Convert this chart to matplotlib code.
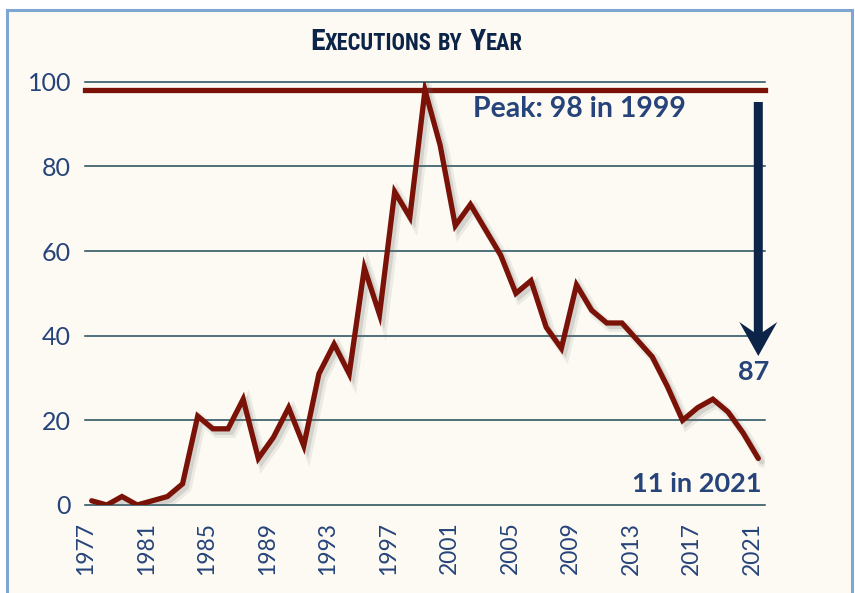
import matplotlib
matplotlib.use("Agg")
import matplotlib.pyplot as plt
import matplotlib.patheffects as pe
import matplotlib.transforms as mtransforms
from matplotlib.patches import Rectangle, Polygon

# data
years = list(range(1977, 2022))
executions = [1, 0, 2, 0, 1, 2, 5, 21, 18, 18,
              25, 11, 16, 23, 14, 31, 38, 31, 56, 45,
              74, 68, 98, 85, 66, 71, 65, 59, 50, 53,
              42, 37, 52, 46, 43, 43, 39, 35, 28, 20,
              23, 25, 22, 17, 11]
xtick_years = list(range(1977, 2022, 4))
ytick_values = [0, 20, 40, 60, 80, 100]
peak_value = 98
peak_label = "Peak: 98 in 1999"
drop_label = "87"
last_label = "11 in 2021"

RED = "#7a1208"
NAVY = "#0d2449"
TEXT = "#26447a"
GRID = "#1f4b57"
CREAM = "#fcfaf3"
BORDER = "#7ea6d3"

plt.rcParams["font.family"] = ["Lato", "DejaVu Sans"]

fig = plt.figure(figsize=(8.55, 5.93), dpi=100, facecolor="white")
fig.patches.append(Rectangle((0.0082, -0.05), 0.9883, 1.0331, transform=fig.transFigure,
                             facecolor=CREAM, edgecolor=BORDER, linewidth=2.2, zorder=-10))

ax = fig.add_axes([0.0994, 0.1484, 0.7953, 0.7138])
ax.set_facecolor("none")
ax.set_xlim(1976.56, 2021.44)
ax.set_ylim(0, 100)
for s in ax.spines.values():
    s.set_visible(False)

# gridlines
for v in ytick_values:
    ax.axhline(v, color=GRID, lw=1.1, clip_on=False, zorder=1)

# peak line
ax.axhline(peak_value, color=RED, lw=3.8, clip_on=False, zorder=3)

# main series with soft shadow
ax.plot(years, executions, color=RED, lw=3.8, solid_joinstyle="miter",
        solid_capstyle="round", zorder=4,
        path_effects=[pe.SimpleLineShadow(offset=(3, -3), shadow_color="#777777", alpha=0.12,
                                          linewidth=7),
                      pe.SimpleLineShadow(offset=(2.5, -2.5), shadow_color="#666666", alpha=0.18),
                      pe.Normal()])

ax.set_yticks(ytick_values)
ax.set_xticks(xtick_years)
ax.set_xticklabels([str(y) for y in xtick_years], rotation=90, va="top", ha="center")
ax.tick_params(axis="both", length=0, colors=TEXT, labelsize=16.5)
ax.tick_params(axis="y", pad=10, labelsize=18)
ax.tick_params(axis="x", pad=12)
shift = mtransforms.ScaledTranslation(-0.06, 0, fig.dpi_scale_trans)
for lab in ax.get_xticklabels():
    lab.set_transform(lab.get_transform() + shift)

# annotations
ax.text(2002.2, 91.7, peak_label, color=TEXT, fontsize=20.5, fontweight="bold", va="baseline")

# drop arrow, shape in inches relative to its tip
tip = mtransforms.ScaledTranslation(2021, 35.2, ax.transData)
arrow_tr = fig.dpi_scale_trans + tip
hw, sw, hl, notch, top = 0.19, 0.045, 0.34, 0.24, 2.54
ax.add_patch(Polygon([(0, 0), (hw, hl), (sw, notch), (sw, top), (-sw, top),
                      (-sw, notch), (-hw, hl)], closed=True, transform=arrow_tr,
                     facecolor=NAVY, edgecolor="none", clip_on=False, zorder=5))

ax.text(2020.7, 29.5, drop_label, color=TEXT, fontsize=19.5, fontweight="bold",
        ha="center", va="baseline")
ax.text(2021.2, 3.1, last_label, color=TEXT, fontsize=19.5, fontweight="bold",
        ha="right", va="baseline")

# small-caps title built from pieces
title_font = ["Roboto Condensed", "Liberation Sans Narrow", "DejaVu Sans"]
pieces = [("E", 19.5), ("XECUTIONS", 14.8), (" ", 14.8), ("BY", 14.8), (" ", 14.8),
          ("Y", 19.5), ("EAR", 14.8)]
texts = [fig.text(0, 0, t, fontsize=sz, fontweight="bold", color=NAVY, family=title_font,
                  fontstretch="condensed", va="baseline", ha="left") for t, sz in pieces]
fig.canvas.draw()
r = fig.canvas.get_renderer()
widths = []
for t, (s, sz) in zip(texts, pieces):
    if s == " ":
        widths.append(sz * 0.3 * fig.dpi / 72)
    else:
        widths.append(t.get_window_extent(r).width)
total = sum(widths)
# fit the title to the reference width
scale = 213 / total
for t, (s, sz) in zip(texts, pieces):
    t.set_fontsize(sz * scale)
widths = [w * scale for w in widths]
total = sum(widths)
x = 416.5 - total / 2
W, H = fig.get_size_inches() * fig.dpi
for t, w in zip(texts, widths):
    t.set_position((x / W, 1 - 50 / H))
    x += w

fig.savefig("out.png", dpi=100, facecolor=fig.get_facecolor())
